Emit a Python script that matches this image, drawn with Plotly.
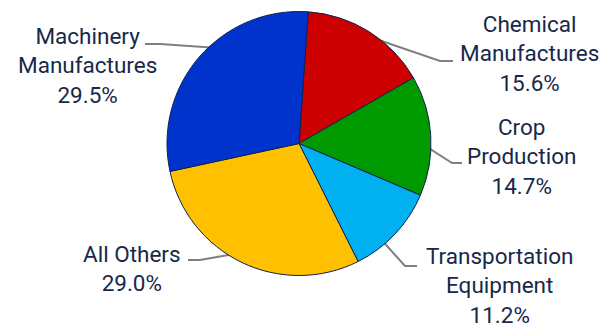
import plotly.graph_objects as go

# ---- data ----
categories = ["Chemical<br>Manufactures", "Crop<br>Production", "Transportation<br>Equipment",
              "All Others", "Machinery<br>Manufactures"]
shares = [15.6, 14.7, 11.2, 29.0, 29.5]
colors = ["#CC0000", "#009900", "#00B0F0", "#FFC000", "#0033CC"]

# ---- layout constants (pixels, from top-left) ----
W, H = 616, 328
label_pos = [(529, 53), (521, 156), (499, 285), (132, 268), (87, 66)]
leader_paths = [
    [(453, 61), (440, 61), (370, 37)],
    [(462, 163), (452, 163), (424, 145)],
    [(417, 266), (405, 266), (378, 236)],
    [(188, 260), (200, 260), (240, 253)],
    [(145, 44), (160, 44), (218, 48)],
]

def px(x):
    return x / W

def py(y):
    return 1 - y / H

fig = go.Figure(go.Pie(
    labels=categories,
    values=shares,
    sort=False,
    direction="clockwise",
    rotation=4,
    marker=dict(colors=colors, line=dict(color="#102050", width=1)),
    textinfo="none",
    hoverinfo="label+percent",
    showlegend=False,
    domain=dict(x=[167 / W, 431 / W], y=[1 - 275.5 / H, 1 - 11.5 / H]),
))

shapes = []
for pts in leader_paths:
    d = "M " + " L ".join(f"{px(x):.5f},{py(y):.5f}" for x, y in pts)
    shapes.append(dict(type="path", path=d, xref="paper", yref="paper",
                       line=dict(color="#7F7F7F", width=2), layer="below"))

annotations = []
for cat, val, (x, y) in zip(categories, shares, label_pos):
    annotations.append(dict(
        text=f"{cat}<br>{val:.1f}%", x=px(x), y=py(y), xref="paper", yref="paper",
        xanchor="center", yanchor="middle", showarrow=False, align="center",
        font=dict(family="Roboto", size=22.5, color="#18284A"),
    ))

fig.update_layout(
    width=W, height=H,
    margin=dict(l=0, r=0, t=0, b=0),
    paper_bgcolor="white", plot_bgcolor="white",
    shapes=shapes, annotations=annotations,
)

fig.write_html("out.html")
